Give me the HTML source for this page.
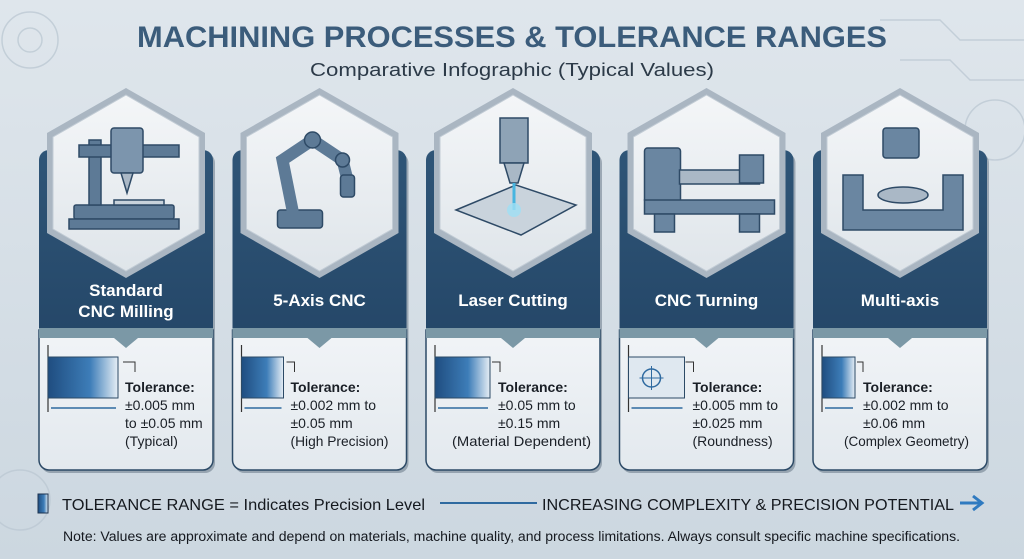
<!DOCTYPE html>
<html><head><meta charset="utf-8"><style>html,body{margin:0;padding:0;width:1024px;height:559px;overflow:hidden}</style></head>
<body>
<svg width="1024" height="559" viewBox="0 0 1024 559" xmlns="http://www.w3.org/2000/svg" font-family="Liberation Sans, sans-serif">
<defs>
<linearGradient id="bg" x1="0" y1="0" x2="0" y2="1"><stop offset="0" stop-color="#dfe6ec"/><stop offset="1" stop-color="#ccd7e0"/></linearGradient>
<linearGradient id="dk" x1="0" y1="0" x2="0" y2="1"><stop offset="0" stop-color="#2f5577"/><stop offset="1" stop-color="#1d3d5e"/></linearGradient>
<linearGradient id="hx" x1="0" y1="0" x2="0" y2="1"><stop offset="0" stop-color="#f4f6f8"/><stop offset="1" stop-color="#dfe5ea"/></linearGradient>
<linearGradient id="tb" x1="0" y1="0" x2="1" y2="0"><stop offset="0" stop-color="#1f4d80"/><stop offset="0.6" stop-color="#3d7db8"/><stop offset="1" stop-color="#e6eef5"/></linearGradient>
<linearGradient id="lp" x1="0" y1="0" x2="0" y2="1"><stop offset="0" stop-color="#f1f4f7"/><stop offset="1" stop-color="#e3e9ee"/></linearGradient>
<g id="card">
  <rect x="0" y="150" width="174" height="320" rx="10" fill="#2a3e52" opacity="0.35" transform="translate(2,3)"/>
  <rect x="0" y="150" width="174" height="320" rx="10" fill="url(#dk)"/>
  <path d="M0 330 H174 V460 a10 10 0 0 1 -10 10 H10 a10 10 0 0 1 -10 -10 Z" fill="url(#lp)" stroke="#2c4a66" stroke-width="1.5"/>
  <rect x="0" y="328" width="174" height="10" fill="#7b98a6"/>
  <path d="M75 338 L99 338 L87 348 Z" fill="#7b98a6"/>
  <polygon points="87,88 166,133 166,233 87,278 8,233 8,133" fill="#aab6c2"/>
  <polygon points="87,95 160,137 160,229 87,271 14,229 14,137" fill="url(#hx)" stroke="#c2ccd5" stroke-width="1"/>
</g>
</defs>
<rect width="1024" height="559" fill="url(#bg)"/>
<g fill="none" stroke="#b9c6d1" stroke-width="1.5" opacity="0.7">
<circle cx="30" cy="40" r="28"/><circle cx="30" cy="40" r="12"/><circle cx="995" cy="130" r="30"/><circle cx="20" cy="500" r="30"/>
<path d="M880 20 H940 L960 40 H1024 M900 60 H950 L970 80 H1024"/>
</g>
<text x="512" y="47" text-anchor="middle" font-size="30" font-weight="bold" fill="#3b5c7b" textLength="750" lengthAdjust="spacingAndGlyphs">MACHINING PROCESSES &amp; TOLERANCE RANGES</text>
<text x="512" y="76" text-anchor="middle" font-size="18" fill="#2c3a48" textLength="404" lengthAdjust="spacingAndGlyphs">Comparative Infographic (Typical Values)</text>

<g transform="translate(39,0)"><use href="#card"/>
 <g fill="#5d7a96" stroke="#2e4a66" stroke-width="1.5"><rect x="35" y="205" width="100" height="14" rx="2"/><rect x="30" y="219" width="110" height="10"/><rect x="50" y="140" width="12" height="65"/><rect x="40" y="145" width="100" height="12"/><rect x="72" y="128" width="32" height="45" rx="3" fill="#7c95ad"/><path d="M82 173 h12 l-6 20 z" fill="#aab8c6"/><rect x="75" y="200" width="50" height="5" fill="#c8d2db"/></g>
 <text x="87" y="296" text-anchor="middle" font-size="17" font-weight="bold" fill="#fff">Standard</text>
 <text x="87" y="317" text-anchor="middle" font-size="17" font-weight="bold" fill="#fff">CNC Milling</text>
</g>
<g transform="translate(232.5,0)"><use href="#card"/>
 <g fill="#5d7a96" stroke="#2e4a66" stroke-width="1.5"><rect x="45" y="210" width="45" height="18" rx="3"/><path d="M60 210 L50 160 L80 140 L110 160 L115 180" fill="none" stroke="#5d7a96" stroke-width="12" stroke-linecap="round"/><circle cx="80" cy="140" r="8"/><circle cx="110" cy="160" r="7"/><rect x="108" y="175" width="14" height="22" rx="3"/></g>
 <text x="87" y="306" text-anchor="middle" font-size="17" font-weight="bold" fill="#fff">5-Axis CNC</text>
</g>
<g transform="translate(426,0)"><use href="#card"/>
 <g stroke="#2e4a66" stroke-width="1.5"><rect x="74" y="118" width="28" height="45" fill="#8ea3b6"/><path d="M78 163 h20 l-6 20 h-8 z" fill="#a9b8c6"/><path d="M30 210 L90 185 L150 205 L95 235 Z" fill="#c9d3dc"/></g>
 <line x1="88" y1="183" x2="88" y2="210" stroke="#47b5e0" stroke-width="3"/><circle cx="88" cy="210" r="7" fill="#9fe0f5" opacity="0.8"/>
 <text x="87" y="306" text-anchor="middle" font-size="17" font-weight="bold" fill="#fff">Laser Cutting</text>
</g>
<g transform="translate(619.5,0)"><use href="#card"/>
 <g fill="#6a86a1" stroke="#2e4a66" stroke-width="1.5"><rect x="25" y="148" width="36" height="55" rx="3"/><rect x="25" y="200" width="130" height="14"/><rect x="35" y="214" width="20" height="18"/><rect x="120" y="214" width="20" height="18"/><rect x="60" y="170" width="80" height="14" fill="#aab8c6"/><rect x="120" y="155" width="24" height="28"/></g>
 <text x="87" y="306" text-anchor="middle" font-size="17" font-weight="bold" fill="#fff">CNC Turning</text>
</g>
<g transform="translate(813,0)"><use href="#card"/>
 <g fill="#6a86a1" stroke="#2e4a66" stroke-width="1.5"><rect x="70" y="128" width="36" height="30" rx="3"/><path d="M30 175 h20 v35 h80 v-35 h20 v55 h-120z"/><ellipse cx="90" cy="195" rx="25" ry="8" fill="#aab8c6"/></g>
 <text x="87" y="306" text-anchor="middle" font-size="17" font-weight="bold" fill="#fff">Multi-axis</text>
</g>

<g font-size="14" fill="#1a1f26">
<g transform="translate(39,0)">
 <line x1="9" y1="345" x2="9" y2="412" stroke="#333" stroke-width="1.2"/><rect x="9" y="357" width="70" height="41" fill="url(#tb)" stroke="#2c4a66"/>
 <line x1="12" y1="408" x2="77" y2="408" stroke="#2f6aa0" stroke-width="1.5"/><path d="M84 362 h12 v10" fill="none" stroke="#333"/>
 <text x="86" y="392" font-weight="bold">Tolerance:</text><text x="86" y="410">±0.005 mm</text><text x="86" y="428">to ±0.05 mm</text><text x="86" y="446">(Typical)</text>
</g>
<g transform="translate(232.5,0)">
 <line x1="9" y1="345" x2="9" y2="412" stroke="#333" stroke-width="1.2"/><rect x="9" y="357" width="42" height="41" fill="url(#tb)" stroke="#2c4a66"/>
 <line x1="12" y1="408" x2="49" y2="408" stroke="#2f6aa0" stroke-width="1.5"/><path d="M54 362 h8 v10" fill="none" stroke="#333"/>
 <text x="58" y="392" font-weight="bold">Tolerance:</text><text x="58" y="410">±0.002 mm to</text><text x="58" y="428">±0.05 mm</text><text x="58" y="446" textLength="98" lengthAdjust="spacingAndGlyphs">(High Precision)</text>
</g>
<g transform="translate(426,0)">
 <line x1="9" y1="345" x2="9" y2="412" stroke="#333" stroke-width="1.2"/><rect x="9" y="357" width="55" height="41" fill="url(#tb)" stroke="#2c4a66"/>
 <line x1="12" y1="408" x2="62" y2="408" stroke="#2f6aa0" stroke-width="1.5"/><path d="M66 362 h8 v10" fill="none" stroke="#333"/>
 <text x="72" y="392" font-weight="bold">Tolerance:</text><text x="72" y="410">±0.05 mm to</text><text x="72" y="428">±0.15 mm</text><text x="26" y="446" textLength="139" lengthAdjust="spacingAndGlyphs">(Material Dependent)</text>
</g>
<g transform="translate(619.5,0)">
 <line x1="9" y1="345" x2="9" y2="412" stroke="#333" stroke-width="1.2"/><rect x="9" y="357" width="56" height="41" fill="#dfe8f0" stroke="#2c4a66"/>
 <circle cx="32" cy="378" r="9" fill="none" stroke="#2f6aa0" stroke-width="1.5"/><path d="M20 378 h24 M32 366 v24" stroke="#2f6aa0"/>
 <line x1="12" y1="408" x2="63" y2="408" stroke="#2f6aa0" stroke-width="1.5"/><path d="M66 362 h8 v10" fill="none" stroke="#333"/>
 <text x="73" y="392" font-weight="bold">Tolerance:</text><text x="73" y="410">±0.005 mm to</text><text x="73" y="428">±0.025 mm</text><text x="73" y="446">(Roundness)</text>
</g>
<g transform="translate(813,0)">
 <line x1="9" y1="345" x2="9" y2="412" stroke="#333" stroke-width="1.2"/><rect x="9" y="357" width="33" height="41" fill="url(#tb)" stroke="#2c4a66"/>
 <line x1="12" y1="408" x2="40" y2="408" stroke="#2f6aa0" stroke-width="1.5"/><path d="M44 362 h6 v10" fill="none" stroke="#333"/>
 <text x="50" y="392" font-weight="bold">Tolerance:</text><text x="50" y="410">±0.002 mm to</text><text x="50" y="428">±0.06 mm</text><text x="31" y="446" textLength="125" lengthAdjust="spacingAndGlyphs">(Complex Geometry)</text>
</g>
</g>

<rect x="38" y="494" width="10" height="19" fill="url(#tb)" stroke="#1d3350"/>
<text x="62" y="510" font-size="16" fill="#15191f" textLength="363" lengthAdjust="spacingAndGlyphs">TOLERANCE RANGE = Indicates Precision Level</text>
<line x1="440" y1="503" x2="537" y2="503" stroke="#2f6aa0" stroke-width="2"/>
<text x="542" y="510" font-size="16" fill="#15191f" textLength="412" lengthAdjust="spacingAndGlyphs">INCREASING COMPLEXITY &amp; PRECISION POTENTIAL</text>
<path d="M960 503 H980 M973 496 L982 503 L973 510" fill="none" stroke="#2f7ac0" stroke-width="3"/>
<text x="63" y="541" font-size="13.5" fill="#15191f" textLength="897" lengthAdjust="spacingAndGlyphs">Note: Values are approximate and depend on materials, machine quality, and process limitations. Always consult specific machine specifications.</text>
</svg>
</body></html>
